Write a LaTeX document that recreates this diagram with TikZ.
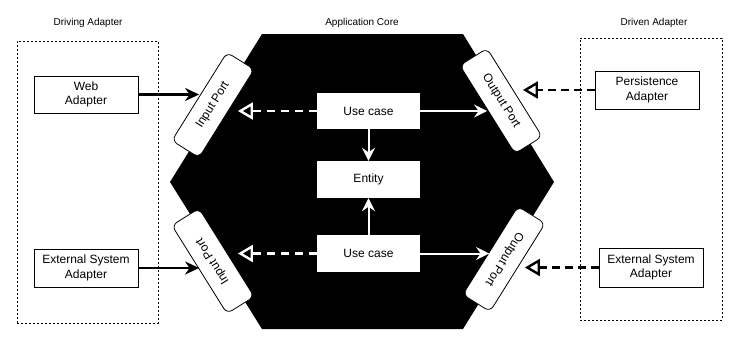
\documentclass[tikz,border=0pt]{standalone}
\usepackage{fontspec}
\setmainfont{Liberation Sans}
\usetikzlibrary{arrows.meta}
\begin{document}
\begin{tikzpicture}[x=1pt,y=-1pt,
  lbl/.style={font=\fontsize{10}{12}\selectfont, inner sep=0pt},
  box/.style={draw=black, fill=white, line width=0.8pt, minimum width=104pt, minimum height=37pt, align=center, font=\fontsize{12}{14.5}\selectfont, inner sep=0pt},
  corebox/.style={fill=white, draw=none, minimum width=103pt, minimum height=36pt, align=center, font=\fontsize{12}{14.5}\selectfont, inner sep=0pt},
  port/.style={draw=black, fill=white, line width=0.8pt, rounded corners=6pt, minimum width=104pt, minimum height=32pt, font=\fontsize{12}{14.5}\selectfont, inner sep=0pt},
  group/.style={draw=black, dash pattern=on 2pt off 2pt, line width=0.7pt, inner sep=0pt},
  barrow/.style={black, line width=2.2pt, -{Stealth[length=14pt,width=13pt,inset=4.5pt]}},
  warrow/.style={white, line width=2pt, -{Stealth[length=13pt,width=13pt,inset=4.5pt]}},
  wdash/.style={white, line width=2.4pt, dash pattern=on 8pt off 6pt, -{Triangle[open,length=15pt,width=17pt]}},
  bdash/.style={black, line width=2.4pt, dash pattern=on 8pt off 5pt, -{Triangle[open,length=15pt,width=17pt]}},
]
\useasboundingbox (0,0) rectangle (744,346);

% group frames and labels
\node[group, minimum width=141pt, minimum height=282pt] (drv) at (87.5,182) {};
\node[group, minimum width=142pt, minimum height=282pt] (dvn) at (651,179) {};
\node[lbl] (drvlbl) at (88,23) {Driving Adapter};
\node[lbl] (corelbl) at (362,23) {Application Core};
\node[lbl] (dvnlbl) at (654,23) {Driven Adapter};

% hexagon
\fill[black] (262,34) -- (463,34) -- (554,182) -- (463,329) -- (262,329) -- (170,182) -- cycle;

% adapters
\node[box] (web) at (86,94.5) {Web\\Adapter};
\node[box, minimum height=38pt] (extl) at (86,268) {External System\\Adapter};
\node[box, minimum height=38pt] (persist) at (647,90) {Persistence\\Adapter};
\node[box, minimum height=39pt] (extr) at (651,267.5) {External System\\Adapter};

% core
\node[corebox] (uc1) at (368.5,111) {Use case};
\node[corebox, minimum height=37pt] (ent) at (368.5,179.5) {Entity};
\node[corebox, minimum height=37pt] (uc2) at (368.5,253.5) {Use case};

% ports
\node[port, rotate=58] (in1) at (213,105) {Input Port};
\node[port, rotate=122] (in2) at (213,261) {Input Port};
\node[port, rotate=-58] (out1) at (501,101) {Output Port};
\node[port, rotate=-122] (out2) at (504,259) {Output Port};

% connectors
\draw[barrow] (web.east) -- (web.east -| in1.north);
\draw[barrow] (extl.east) -- (extl.east -| in2.north);
\draw[wdash, shorten >=11pt] (uc1.west) -- (uc1.west -| in1.south);
\draw[wdash, shorten >=11pt] (uc2.west) -- (uc2.west -| in2.south);
\draw[warrow] (uc1.east) -- (uc1.east -| out1.south);
\draw[warrow, shorten >=1pt] (uc2.east) -- (uc2.east -| out2.south);
\draw[warrow] (uc1.south) -- (ent.north);
\draw[warrow] (uc2.north) -- (ent.south);
\draw[bdash, shorten >=8pt] (persist.west) -- (persist.west -| out1.north);
\draw[bdash, shorten >=7pt] (extr.west) -- (extr.west -| out2.north);
\end{tikzpicture}
\end{document}
